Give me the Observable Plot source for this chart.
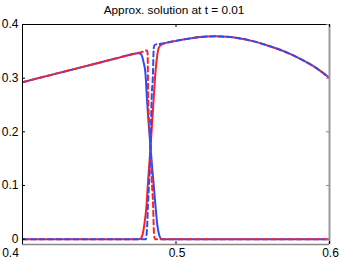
<!DOCTYPE html>
<html>
<head>
<meta charset="utf-8">
<script src="https://cdn.jsdelivr.net/npm/d3@7"></script>
<script src="https://cdn.jsdelivr.net/npm/@observablehq/plot@0.6"></script>
<style>
  html, body { margin: 0; padding: 0; background: #fff; }
  svg { display: block; }
</style>
</head>
<body>
<div id="chart"></div>
<script>
const titleText = "Approx. solution at t = 0.01";
const xDomain = [0.4, 0.6];
const yDomain = [-0.01, 0.4];
const xTicks = [0.4, 0.5, 0.6];
const yTicks = [0, 0.1, 0.2, 0.3, 0.4];
const xTickLabels = ["0.4", "0.5", "0.6"];
const yTickLabels = ["0", "0.1", "0.2", "0.3", "0.4"];

// approximate solution, first component (blue solid)
const blueSolid = [
  [0.40,0.2925],[0.42,0.307],[0.44,0.3215],[0.46,0.336],[0.47,0.3435],[0.4755,0.3465],
  [0.4770,0.3455],[0.4780,0.340],[0.4790,0.328],[0.4801,0.309],[0.4811,0.260],[0.4822,0.215],
  [0.4834,0.171],[0.4845,0.133],[0.4855,0.100],[0.4866,0.063],[0.4878,0.027],[0.4890,0.008],
  [0.4906,0.0],[0.50,0],[0.55,0],[0.60,0]
];
// approximate solution, second component (red solid)
const redSolid = [
  [0.40,0],[0.45,0],[0.4760,0],[0.4772,0.002],[0.4785,0.012],[0.4796,0.032],[0.4808,0.063],
  [0.4816,0.10],[0.4825,0.135],[0.4834,0.171],[0.4844,0.215],[0.4854,0.259],[0.4867,0.314],
  [0.4878,0.343],[0.4888,0.357],[0.4905,0.3625],[0.50,0.3695],[0.51,0.3745],[0.52,0.3775],
  [0.525,0.378],[0.53,0.3775],[0.54,0.375],[0.55,0.369],[0.56,0.3605],[0.57,0.3505],
  [0.58,0.3375],[0.59,0.3215],[0.60,0.3005]
];
// reference solution, first component (red dashed)
const redDashed = [
  [0.40,0.2925],[0.42,0.307],[0.44,0.3215],[0.46,0.336],[0.47,0.3435],[0.4780,0.349],
  [0.4810,0.3515],[0.4814,0.349],[0.4816,0.335],[0.4817,0.30],[0.4819,0.259],[0.4826,0.212],
  [0.4834,0.171],[0.4844,0.10],[0.4851,0.063],[0.4854,0.03],[0.4857,0.008],[0.4863,0],
  [0.50,0],[0.55,0],[0.60,0]
];
// reference solution, second component (blue dashed)
const blueDashed = [
  [0.40,0],[0.45,0],[0.4803,0],[0.4808,0.008],[0.4813,0.03],[0.4817,0.063],[0.4824,0.10],
  [0.4834,0.171],[0.4841,0.259],[0.4850,0.31],[0.4853,0.342],[0.4855,0.356],[0.4860,0.3615],
  [0.4870,0.363],[0.49,0.364],[0.50,0.3695],[0.51,0.3745],[0.52,0.3775],[0.525,0.378],
  [0.53,0.3775],[0.54,0.375],[0.55,0.369],[0.56,0.3605],[0.57,0.3505],[0.58,0.3375],
  [0.59,0.3215],[0.60,0.3005]
];

const W = 341, H = 259;
const mL = 22, mR = 12, mT = 24, mB = 15;
const frameW = W - mL - mR, frameH = H - mT - mB;
const tick = 3;
const BLUE = "#2a4bff", RED = "#ff2020";
const font = "Liberation Sans, Arial, Helvetica, sans-serif";

const lineOpts = (color, dashed) => ({
  x: d => d[0], y: d => d[1], stroke: color, strokeWidth: 2,
  curve: "monotone-x", clip: true,
  ...(dashed ? {strokeDasharray: "5,3.5"} : {})
});

const chart = Plot.plot({
  width: W, height: H,
  marginLeft: mL, marginRight: mR, marginTop: mT, marginBottom: mB,
  style: {fontFamily: font, background: "#fff", overflow: "visible"},
  x: {domain: xDomain, axis: null},
  y: {domain: yDomain, axis: null},
  marks: [
    Plot.line(blueSolid, lineOpts(BLUE, false)),
    Plot.line(redSolid, lineOpts(RED, false)),
    Plot.line(redDashed, lineOpts(RED, true)),
    Plot.line(blueDashed, lineOpts(BLUE, true)),
    // frame
    Plot.ruleY([yDomain[1]], {stroke: "#000", strokeWidth: 1}),
    Plot.ruleX([xDomain[0]], {stroke: "#000", strokeWidth: 1}),
    Plot.ruleX([xDomain[1]], {stroke: "#999", strokeWidth: 2}),
    Plot.ruleY([yDomain[0]], {stroke: "#888", strokeWidth: 1.5}),
    // inward ticks
    Plot.ruleX(xTicks, {x: d => d, insetTop: frameH - tick, stroke: "#000"}),
    Plot.ruleX(xTicks, {x: d => d, insetBottom: frameH - tick, stroke: "#000"}),
    Plot.ruleY(yTicks, {y: d => d, insetRight: frameW - tick, stroke: "#000"}),
    Plot.ruleY(yTicks, {y: d => d, insetLeft: frameW - tick, stroke: "#888"}),
    // tick labels
    Plot.text(xTicks.slice(0, 1), {x: d => d, text: (d, i) => xTickLabels[0], frameAnchor: "bottom",
      dy: 9, dx: -12, fontSize: 12, fill: "#000", lineAnchor: "middle"}),
    Plot.text(xTicks.slice(1), {x: d => d, text: (d, i) => xTickLabels[i + 1], frameAnchor: "bottom",
      dy: 9, dx: 1, fontSize: 12, fill: "#000", lineAnchor: "middle"}),
    Plot.text(yTicks, {y: d => d, text: (d, i) => yTickLabels[i], frameAnchor: "left",
      dx: -4, textAnchor: "end", fontSize: 12, fill: "#000", lineAnchor: "middle"}),
    // title
    Plot.text([titleText], {text: d => d, frameAnchor: "top", dy: -14, dx: -2,
      fontSize: 11.8, fill: "#000", lineAnchor: "middle"})
  ]
});
document.getElementById("chart").appendChild(chart);
</script>
</body>
</html>
